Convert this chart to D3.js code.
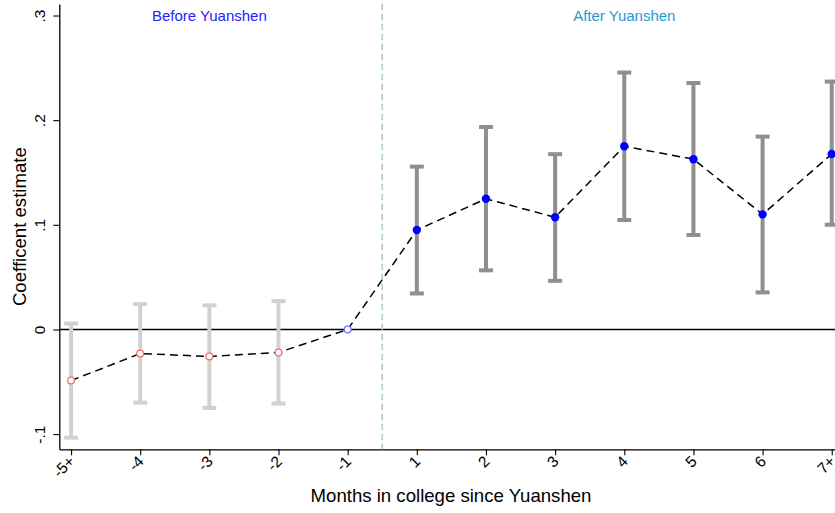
<!DOCTYPE html>
<html>
<head>
  <title>Event study: Yuanshen</title>
  <script src="https://d3js.org/d3.v7.min.js"></script>
  <style>
    body { margin: 0; background: #fff; }
    text { font-family: "Liberation Sans", Arial, sans-serif; }
  </style>
</head>
<body>

<div id="chart"></div>

<script>
// Event-time categories and estimates
const periods = ["-5+", "-4", "-3", "-2", "-1", "1", "2", "3", "4", "5", "6", "7+"];
const estimate = [-0.0488, -0.023, -0.0258, -0.022, 0, 0.095, 0.1249, 0.1072, 0.1751, 0.1627, 0.110, 0.1677];
const ciLow = [-0.1034, -0.0699, -0.075, -0.0708, null, 0.0344, 0.0565, 0.0465, 0.1046, 0.0903, 0.0354, 0.1001];
const ciHigh = [0.0057, 0.0242, 0.023, 0.0271, null, 0.1556, 0.1935, 0.1675, 0.2455, 0.2355, 0.1843, 0.2369];

const yTicks = [-0.1, 0, 0.1, 0.2, 0.3];
const yTickLabels = ["-.1", "0", ".1", ".2", ".3"];

const data = periods.map((p, i) => ({
  label: p,
  i: i,
  b: estimate[i],
  lo: ciLow[i],
  hi: ciHigh[i],
  post: i >= 5
}));

const W = 835, H = 513;

const svg = d3.select("#chart")
  .append("svg")
  .attr("width", W)
  .attr("height", H);

// index scale; the plot region runs past the right edge like the original
const x = d3.scaleLinear()
  .domain([-0.17, 11.17])
  .range([59.3, 843.5]);

const y = d3.scaleLinear()
  .domain([-0.1145, 0.311])
  .range([449.3, 4]);

// x axis
const xAxis = svg.append("g")
  .attr("transform", `translate(0,${y.range()[0]})`)
  .call(d3.axisBottom(x)
    .tickValues(d3.range(periods.length))
    .tickFormat(i => periods[i])
    .tickSize(6)
    .tickSizeOuter(0));
xAxis.select(".domain").attr("stroke", "#000").attr("stroke-width", 1.3);
xAxis.selectAll(".tick line").attr("stroke", "#000").attr("stroke-width", 1.1);
xAxis.selectAll(".tick text")
  .attr("font-size", 15.5)
  .attr("fill", "#000")
  .attr("text-anchor", "end")
  .attr("dy", null)
  .attr("y", 0)
  .attr("transform", "translate(4,13) rotate(-45)");

// y axis
const yAxis = svg.append("g")
  .attr("transform", `translate(${x.range()[0]},0)`)
  .call(d3.axisLeft(y)
    .tickValues(yTicks)
    .tickFormat((d, k) => yTickLabels[k])
    .tickSize(6)
    .tickSizeOuter(0));
yAxis.select(".domain").attr("stroke", "#000").attr("stroke-width", 1.3);
yAxis.selectAll(".tick line").attr("stroke", "#000").attr("stroke-width", 1.1);
yAxis.selectAll(".tick text")
  .attr("font-size", 15.5)
  .attr("fill", "#000")
  .attr("text-anchor", "middle")
  .attr("x", 0)
  .attr("dy", null)
  .attr("transform", "translate(-14,0) rotate(-90)");

// axis titles
svg.append("text")
  .attr("x", 451)
  .attr("y", 502)
  .attr("text-anchor", "middle")
  .attr("font-size", 18.6)
  .text("Months in college since Yuanshen");

svg.append("text")
  .attr("transform", `translate(26,${(y.range()[0] + y.range()[1]) / 2}) rotate(-90)`)
  .attr("text-anchor", "middle")
  .attr("font-size", 18.6)
  .text("Coefficent estimate");

// zero reference line
svg.append("line")
  .attr("x1", x.range()[0]).attr("x2", W)
  .attr("y1", y(0)).attr("y2", y(0))
  .attr("stroke", "#000")
  .attr("stroke-width", 1.5);

// event line between -1 and 1
svg.append("line")
  .attr("x1", x(4.5)).attr("x2", x(4.5))
  .attr("y1", y.range()[1]).attr("y2", y.range()[0])
  .attr("stroke", "#adc9c3")
  .attr("stroke-width", 1.5)
  .attr("stroke-dasharray", "6,4");

// period labels
svg.append("text")
  .attr("x", x(2)).attr("y", y(0.3))
  .attr("dy", "0.35em")
  .attr("text-anchor", "middle")
  .attr("font-size", 15)
  .attr("fill", "#2323ff")
  .text("Before Yuanshen");

svg.append("text")
  .attr("x", x(8)).attr("y", y(0.3))
  .attr("dy", "0.35em")
  .attr("text-anchor", "middle")
  .attr("font-size", 15)
  .attr("fill", "#1e9ad2")
  .text("After Yuanshen");

// confidence intervals
const ci = data.filter(d => d.lo !== null);
const capW = 7;
const ciColor = d => d.post ? "#8f8f8f" : "#d1d1d1";

const bars = svg.append("g").selectAll("g")
  .data(ci)
  .join("g")
  .attr("stroke", ciColor)
  .attr("stroke-width", 4);

bars.append("line")
  .attr("x1", d => x(d.i)).attr("x2", d => x(d.i))
  .attr("y1", d => y(d.lo)).attr("y2", d => y(d.hi));
bars.append("line")
  .attr("x1", d => x(d.i) - capW).attr("x2", d => x(d.i) + capW)
  .attr("y1", d => y(d.hi)).attr("y2", d => y(d.hi));
bars.append("line")
  .attr("x1", d => x(d.i) - capW).attr("x2", d => x(d.i) + capW)
  .attr("y1", d => y(d.lo)).attr("y2", d => y(d.lo));

// connecting dashed line
svg.append("path")
  .datum(data)
  .attr("fill", "none")
  .attr("stroke", "#000")
  .attr("stroke-width", 1.5)
  .attr("stroke-dasharray", "8,5")
  .attr("d", d3.line().x(d => x(d.i)).y(d => y(d.b)));

// markers
svg.append("g").selectAll("circle")
  .data(data)
  .join("circle")
  .attr("cx", d => x(d.i))
  .attr("cy", d => y(d.b))
  .attr("r", d => d.post ? 4.2 : 3.4)
  .attr("fill", d => d.post ? "#0000ff" : "#fff")
  .attr("stroke", d => d.post ? "#0000ff" : (d.i === 4 ? "#7373ff" : "#ff6b6b"))
  .attr("stroke-width", d => d.post ? 0 : 1.3);
</script>

</body>
</html>
